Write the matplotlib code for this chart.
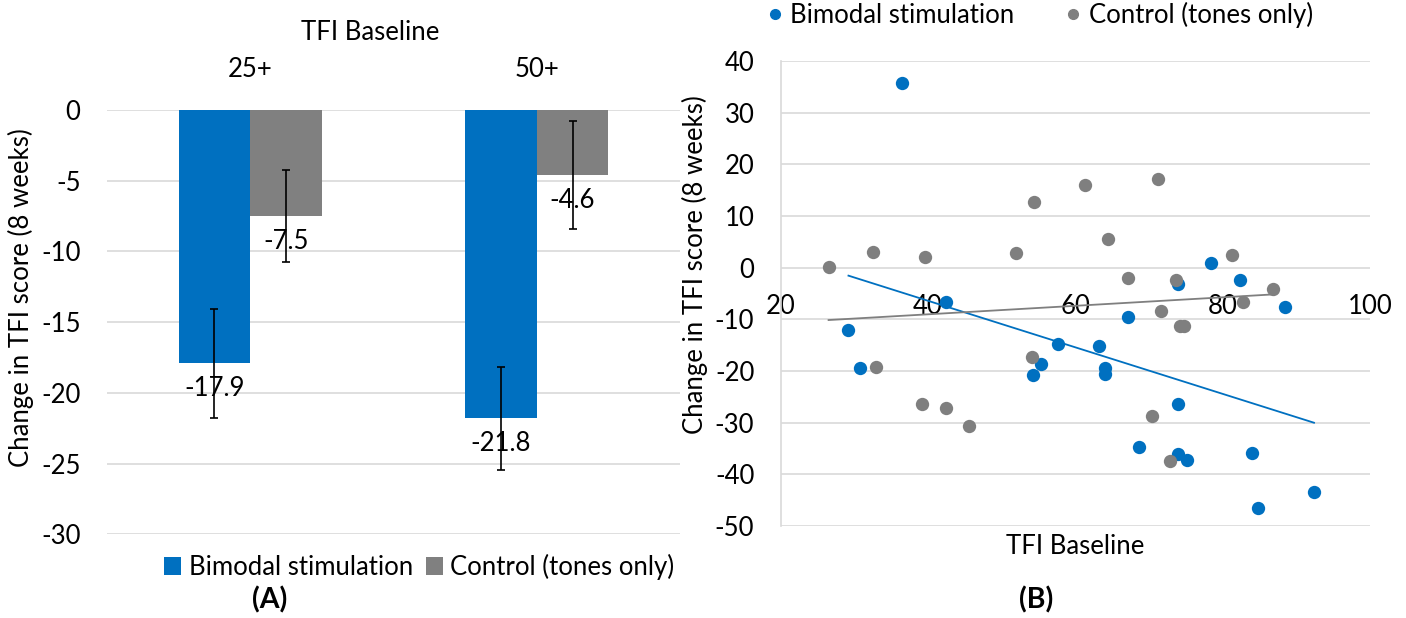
import numpy as np
import matplotlib
matplotlib.use("Agg")
import matplotlib.pyplot as plt
from matplotlib.lines import Line2D

plt.rcParams['font.family'] = ['Lato', 'Liberation Sans', 'DejaVu Sans']

# ---------------- data ----------------
categories = ["25+", "50+"]
bimodal_means = [-17.9, -21.8]
control_means = [-7.5, -4.6]
bimodal_err = [3.85, 3.65]
control_err = [3.25, 3.8]

bimodal_x = [36.4, 42.5, 29.2, 30.8, 57.6, 55.3, 54.3, 74.0, 78.4, 82.3, 88.4,
             67.2, 63.2, 64.0, 64.0, 74.0, 68.7, 74.0, 75.2, 84.0, 84.85, 92.4]
bimodal_y = [35.7, -6.7, -12.0, -19.5, -14.7, -18.7, -20.8, -3.1, 0.9, -2.3, -7.6,
             -9.5, -15.1, -19.4, -20.5, -26.3, -34.7, -36.1, -37.2, -35.9, -46.6, -43.5]
control_x = [26.5, 32.5, 39.6, 52.0, 54.4, 61.3, 71.2, 64.5, 67.2, 73.6, 81.2,
             86.8, 82.8, 71.6, 74.2, 74.8, 32.9, 54.1, 39.2, 42.5, 45.6, 70.4, 72.9]
control_y = [0.1, 3.1, 2.1, 2.9, 12.8, 16.0, 17.2, 5.6, -2.0, -2.4, 2.5,
             -4.2, -6.7, -8.3, -11.2, -11.2, -19.2, -17.2, -26.3, -27.2, -30.7, -28.7, -37.5]

bar_yticks = [0, -5, -10, -15, -20, -25, -30]
sc_xticks = [20, 40, 60, 80, 100]
sc_yticks = [40, 30, 20, 10, 0, -10, -20, -30, -40, -50]

BLUE = '#0070C0'
GREY = '#808080'
GRID = '#d9d9d9'
FS = 18.5

W, H = 1406, 618
fig = plt.figure(figsize=(W / 100, H / 100), dpi=100)

# ---------------- panel A ----------------
axA = fig.add_axes([107 / W, 1 - 534.3 / H, (680 - 107) / W, (534.3 - 110) / H])
x = np.arange(len(categories))
bw = 0.25
bA = axA.bar(x - bw / 2, bimodal_means, bw, color=BLUE, label='Bimodal stimulation', zorder=2)
bB = axA.bar(x + bw / 2, control_means, bw, color=GREY, label='Control (tones only)', zorder=2)
axA.errorbar(x - bw / 2, bimodal_means, yerr=bimodal_err, fmt='none', ecolor='black',
             elinewidth=1.2, capsize=3, capthick=1.2, zorder=3)
axA.errorbar(x + bw / 2, control_means, yerr=control_err, fmt='none', ecolor='black',
             elinewidth=1.2, capsize=3, capthick=1.2, zorder=3)
for xi, v in zip(x - bw / 2, bimodal_means):
    axA.annotate(f"{v}", (xi, v), xytext=(0, -18), textcoords='offset points',
                 ha='center', va='center', fontsize=FS, zorder=4)
for xi, v in zip(x + bw / 2, control_means):
    axA.annotate(f"{v}", (xi, v), xytext=(0, -18), textcoords='offset points',
                 ha='center', va='center', fontsize=FS, zorder=4)
axA.set_xlim(-0.5, 1.5)
axA.set_ylim(-30, 0)
axA.set_yticks(bar_yticks)
axA.set_yticklabels([str(t) for t in bar_yticks])
axA.set_xticks(x)
axA.set_xticklabels(categories)
axA.xaxis.tick_top()
axA.tick_params(axis='both', length=0, labelsize=FS)
axA.tick_params(axis='y', pad=19)
axA.tick_params(axis='x', pad=20)
axA.yaxis.grid(True, color=GRID, lw=1.2, zorder=0)
axA.set_axisbelow(True)
for s in axA.spines.values():
    s.set_visible(False)

fig.text(370 / W, 1 - 32 / H, "TFI Baseline", ha='center', va='center', fontsize=FS)
fig.text(21 / W, 1 - 298 / H, "Change in TFI score (8 weeks)", ha='center', va='center',
         rotation=90, fontsize=FS)
fig.legend(handles=[bA, bB], loc='center', bbox_to_anchor=(419.5 / W, 1 - 567 / H), ncol=2,
           frameon=False, fontsize=FS, handlelength=0.65, handleheight=0.65,
           handletextpad=0.3, columnspacing=0.5, borderpad=0, borderaxespad=0)
fig.text(270 / W, 1 - 600 / H, "(A)", ha='center', va='center', fontsize=FS + 2,
         fontweight='bold')

# ---------------- panel B ----------------
axB = fig.add_axes([780.7 / W, 1 - 526 / H, (1370 - 780.7) / W, (526 - 61) / H])
axB.scatter(bimodal_x, bimodal_y, s=92, color=BLUE, zorder=3, linewidths=0)
axB.scatter(control_x, control_y, s=92, color='#7f7f7f', zorder=4, linewidths=0)
for xs, ys, c in [(bimodal_x, bimodal_y, BLUE), (control_x, control_y, '#7f7f7f')]:
    k, b0 = np.polyfit(xs, ys, 1)
    xx = np.array([min(xs), max(xs)])
    axB.plot(xx, k * xx + b0, color=c, lw=1.3, zorder=5)
axB.set_xlim(20, 100)
axB.set_ylim(-50, 40)
axB.set_xticks(sc_xticks)
axB.set_yticks(sc_yticks)
axB.set_yticklabels([str(t) for t in sc_yticks])
axB.set_xticklabels([str(t) for t in sc_xticks])
axB.spines['bottom'].set_position(('data', 0))
axB.spines['bottom'].set_visible(False)
axB.spines['top'].set_visible(False)
axB.spines['right'].set_visible(False)
axB.spines['left'].set_color(GRID)
axB.spines['left'].set_linewidth(1.2)
axB.tick_params(axis='both', length=0, labelsize=FS, pad=19)
axB.yaxis.grid(True, color=GRID, lw=1.2, zorder=0)
axB.set_axisbelow(True)

fig.text(695 / W, 1 - 265 / H, "Change in TFI score (8 weeks)", ha='center', va='center',
         rotation=90, fontsize=FS)
fig.text(1075 / W, 1 - 547 / H, "TFI Baseline", ha='center', va='center', fontsize=FS)
fig.text(1036 / W, 1 - 600 / H, "(B)", ha='center', va='center', fontsize=FS + 2,
         fontweight='bold')
hB = [Line2D([], [], ls='none', marker='o', ms=7, color=BLUE, label='Bimodal stimulation'),
      Line2D([], [], ls='none', marker='o', ms=7, color='#7f7f7f', label='Control (tones only)')]
fig.legend(handles=hB, loc='center', bbox_to_anchor=(1040 / W, 1 - 15 / H), ncol=2,
           frameon=False, fontsize=FS, handlelength=0.6, handletextpad=0.3,
           columnspacing=2.0, borderpad=0, borderaxespad=0)

fig.savefig("out.png", dpi=100)
